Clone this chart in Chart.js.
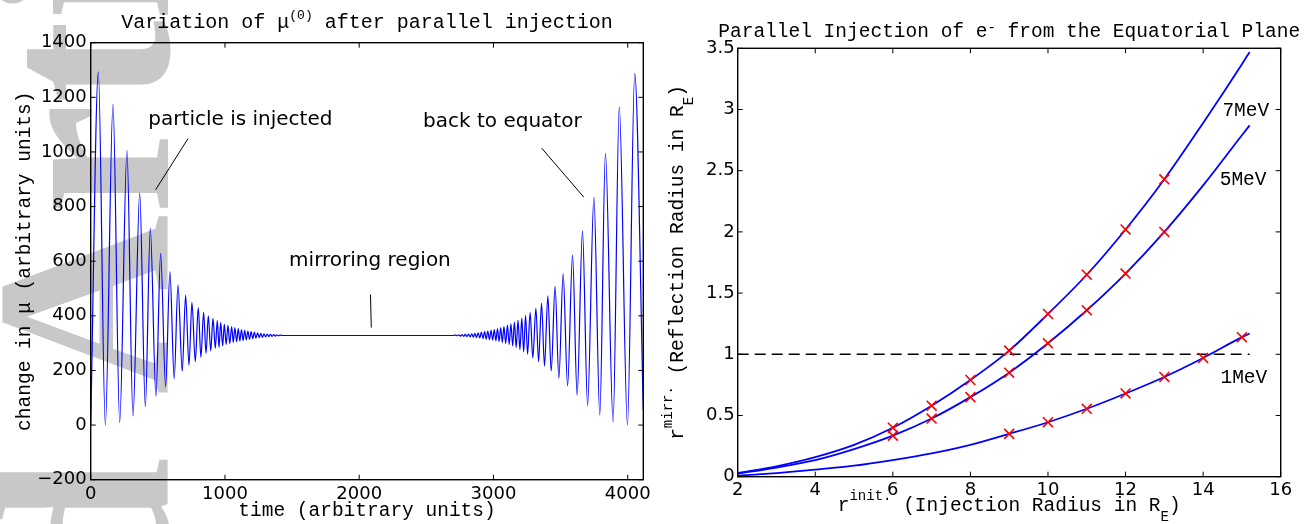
<!DOCTYPE html>
<html>
<head>
<meta charset="utf-8">
<script src="https://cdn.jsdelivr.net/npm/chart.js@4.4.1/dist/chart.umd.min.js"></script>
<style>
  html, body { margin: 0; padding: 0; background: #fff; }
  body { width: 1314px; height: 524px; position: relative; overflow: hidden; }
  canvas, svg { position: absolute; top: 0; }
  #wm { left: 0; }
  #muChart { left: 0; }
  #mirrChart { left: 660px; }
</style>
</head>
<body>
<svg id="wm" width="660" height="524">
  <g font-family="Liberation Serif" font-weight="bold" font-size="250" fill="#c8c8c8" transform="translate(168,395) rotate(-90)">
    <text x="-62" y="0" text-anchor="end">Accepted</text>
    <text x="0" y="0">Article</text>
  </g>
</svg>
<canvas id="muChart" width="660" height="524"></canvas>
<canvas id="mirrChart" width="654" height="524"></canvas>
<script>
// ---- panel 1 : peaks / troughs of mu ----
const muTime = [
  0, 57, 109, 166, 216, 270, 315, 365, 407, 444,
  486, 521, 558, 590, 622, 650, 682, 707, 732, 754,
  779, 801, 821, 841, 859, 876, 894, 911, 928, 943,
  956, 968, 983, 995, 1009, 1022, 1036, 1050, 1062, 1074,
  1087, 1099, 1111, 1123, 1135, 1147, 1159, 1171, 1183, 1195,
  1207, 1219, 1231, 1243, 1255, 1267, 1279, 1291, 1303, 1315,
  1327, 1339, 1351, 1363, 1375, 1387, 1399, 1411, 1440, 2055,
  2690, 2718, 2730, 2742, 2754, 2766, 2778, 2790, 2802, 2814,
  2826, 2838, 2850, 2862, 2874, 2886, 2898, 2910, 2922, 2934,
  2946, 2958, 2970, 2982, 2994, 3006, 3018, 3030, 3042, 3054,
  3066, 3078, 3091, 3104, 3117, 3130, 3143, 3156, 3169, 3183,
  3197, 3211, 3225, 3239, 3254, 3273, 3293, 3316, 3336, 3358,
  3380, 3405, 3430, 3459, 3487, 3519, 3552, 3589, 3623, 3663,
  3701, 3748, 3792, 3834, 3891, 3937, 3998, 4052, 4116
];
const muValue = [
  0, 1293, 0, 1174, 10, 1005, 33, 849, 67, 720,
  106, 629, 140, 562, 170, 513, 197, 476, 219, 449,
  232, 430, 248, 413, 263, 400, 272, 391, 281, 383,
  284, 376, 290, 370, 295, 365, 299, 361, 302, 357,
  305, 353, 308, 350, 310, 347, 312, 344, 314, 342,
  316, 340, 318, 338, 320, 336, 321, 334, 323, 333,
  324, 332, 325, 331, 326, 330, 327, 329.5, 328, 328,
  328, 329.5, 327, 330, 326, 331, 325, 332, 324, 333,
  323, 334, 322, 336, 320, 338, 319, 340, 317, 342,
  315, 344, 313, 347, 311, 350, 309, 353, 306, 357,
  303, 361, 299, 366, 295, 371, 290, 377, 284, 384,
  276, 392, 268, 402, 260, 412, 246, 427, 232, 447,
  216, 473, 198, 508, 171, 555, 143, 622, 109, 711,
  71, 835, 37, 995, 11, 1165, 0, 1288, 55
];
const muXTicks = [0, 1000, 2000, 3000, 4000];
const muXLabels = ['0', '1000', '2000', '3000', '4000'];
const muYTicks = [-200, 0, 200, 400, 600, 800, 1000, 1200, 1400];
const muYLabels = ['\u2212200', '0', '200', '400', '600', '800', '1000', '1200', '1400'];

// ---- panel 2 : mirror radius vs injection radius ----
const curveX = [2, 3, 4, 5, 6, 7, 8, 9, 10, 11, 12, 13, 14, 15, 15.2];
const curve7MeV = [0.03, 0.085, 0.16, 0.26, 0.40, 0.58, 0.79, 1.03, 1.33, 1.65, 2.02, 2.43, 2.89, 3.37, 3.47];
const curve5MeV = [0.025, 0.075, 0.135, 0.225, 0.335, 0.475, 0.65, 0.85, 1.09, 1.36, 1.66, 2.00, 2.38, 2.79, 2.87];
const curve1MeV = [0.008, 0.03, 0.058, 0.09, 0.136, 0.19, 0.26, 0.35, 0.445, 0.555, 0.68, 0.815, 0.97, 1.14, 1.17];
const mark7X = [6, 7, 8, 9, 10, 11, 12, 13];
const mark7Y = [0.40, 0.58, 0.79, 1.03, 1.33, 1.65, 2.02, 2.43];
const mark5X = [6, 7, 8, 9, 10, 11, 12, 13];
const mark5Y = [0.335, 0.475, 0.65, 0.85, 1.09, 1.36, 1.66, 2.00];
const mark1X = [9, 10, 11, 12, 13, 14, 15];
const mark1Y = [0.35, 0.445, 0.555, 0.68, 0.815, 0.97, 1.14];
const refX = [2, 15.2];
const refY = [1, 1];
const rXTicks = [2, 4, 6, 8, 10, 12, 14, 16];
const rXLabels = ['2', '4', '6', '8', '10', '12', '14', '16'];
const rYTicks = [0, 0.5, 1, 1.5, 2, 2.5, 3, 3.5];
const rYLabels = ['0', '0.5', '1', '1.5', '2', '2.5', '3', '3.5'];

const MONO = '"Liberation Mono", monospace';
const SANS = '"DejaVu Sans", sans-serif';

Chart.defaults.font.family = SANS;
Chart.defaults.font.size = 18;
Chart.defaults.color = '#000';

const pts = (xs, ys) => xs.map((x, i) => ({ x: x, y: ys[i] }));

// texte avec exposants / indices, centré sur (x, y), éventuellement tourné
function drawRich(ctx, parts, x, y, angle) {
    ctx.save();
    ctx.translate(x, y);
    ctx.rotate(angle || 0);
    ctx.textAlign = 'left';
    ctx.textBaseline = 'alphabetic';
    ctx.fillStyle = '#000';
    let total = 0;
    parts.forEach(p => {
        ctx.font = p.size + 'px ' + MONO;
        p.w = ctx.measureText(p.text).width;
        total += p.w;
    });
    let cx = -total / 2;
    parts.forEach(p => {
        ctx.font = p.size + 'px ' + MONO;
        ctx.fillText(p.text, cx, p.dy || 0);
        cx += p.w;
    });
    ctx.restore();
}

// cadre + graduations vers l'intérieur, sur les 4 côtés
function drawFrame(chart, xTicks, yTicks) {
    const { ctx, chartArea: a, scales: { x, y } } = chart;
    ctx.save();
    ctx.strokeStyle = '#000';
    ctx.lineWidth = 1;
    ctx.beginPath();
    xTicks.forEach(v => {
        const px = x.getPixelForValue(v);
        ctx.moveTo(px, a.bottom); ctx.lineTo(px, a.bottom - 5);
        ctx.moveTo(px, a.top); ctx.lineTo(px, a.top + 5);
    });
    yTicks.forEach(v => {
        const py = y.getPixelForValue(v);
        ctx.moveTo(a.left, py); ctx.lineTo(a.left + 5, py);
        ctx.moveTo(a.right, py); ctx.lineTo(a.right - 5, py);
    });
    ctx.stroke();
    ctx.lineWidth = 1.4;
    ctx.strokeRect(a.left, a.top, a.right - a.left, a.bottom - a.top);
    ctx.restore();
}

function axisScales(xMin, xMax, xTicks, xLabels, yMin, yMax, yTicks, yLabels, yWidth, xHeight, xPad, yPad) {
    return {
        x: {
            type: 'linear', min: xMin, max: xMax,
            grid: { display: false }, border: { display: false },
            afterBuildTicks: s => { s.ticks = xTicks.map(v => ({ value: v })); },
            afterFit: s => { s.height = xHeight; },
            ticks: { padding: xPad, maxRotation: 0, autoSkip: false,
                     callback: v => xLabels[xTicks.indexOf(v)] }
        },
        y: {
            type: 'linear', min: yMin, max: yMax,
            grid: { display: false }, border: { display: false },
            afterBuildTicks: s => { s.ticks = yTicks.map(v => ({ value: v })); },
            afterFit: s => { s.width = yWidth; },
            ticks: { padding: yPad, autoSkip: false,
                     callback: v => yLabels[yTicks.indexOf(v)] }
        }
    };
}

// --- Panneau 1 ---
const muNotes = [
    { text: 'particle is injected', x: 1115, y: 1097 },
    { text: 'back to equator', x: 3066, y: 1091 },
    { text: 'mirroring region', x: 2080, y: 581 }
];
const muPointers = [
    [725, 1049, 484, 862],
    [3359, 1014, 3672, 835],
    [2084, 478, 2090, 357]
];

const muDecor = {
    id: 'muDecor',
    afterDraw(chart) {
        const { ctx, scales: { x, y } } = chart;
        drawFrame(chart, muXTicks, muYTicks);

        ctx.save();
        ctx.strokeStyle = '#000';
        ctx.lineWidth = 1;
        ctx.beginPath();
        muPointers.forEach(p => {
            ctx.moveTo(x.getPixelForValue(p[0]), y.getPixelForValue(p[1]));
            ctx.lineTo(x.getPixelForValue(p[2]), y.getPixelForValue(p[3]));
        });
        ctx.stroke();
        ctx.font = '20px ' + SANS;
        ctx.fillStyle = '#000';
        ctx.textAlign = 'center';
        ctx.textBaseline = 'alphabetic';
        muNotes.forEach(n => ctx.fillText(n.text, x.getPixelForValue(n.x), y.getPixelForValue(n.y)));
        ctx.restore();

        const cx = (chart.chartArea.left + chart.chartArea.right) / 2;
        const cy = (chart.chartArea.top + chart.chartArea.bottom) / 2;
        drawRich(ctx, [
            { text: 'Variation of \u03bc', size: 20 },
            { text: '(0)', size: 13, dy: -9 },
            { text: ' after parallel injection', size: 20 }
        ], cx, 28.3);
        drawRich(ctx, [{ text: 'time (arbitrary units)', size: 19.5 }], cx, 516);
        drawRich(ctx, [{ text: 'change in \u03bc (arbitrary units)', size: 19.5 }], 30, cy, -Math.PI / 2);
    }
};

new Chart(document.getElementById('muChart'), {
    type: 'line',
    data: {
        datasets: [{
            data: pts(muTime, muValue),
            borderColor: '#0000ff',
            borderWidth: 1.2,
            pointRadius: 0,
            cubicInterpolationMode: 'monotone',
            fill: false
        }]
    },
    options: {
        responsive: false,
        animation: false,
        events: [],
        layout: { padding: { left: 0, top: 42.7, right: 16.7, bottom: 0 } },
        plugins: { legend: { display: false }, tooltip: { enabled: false } },
        scales: axisScales(0, 4116, muXTicks, muXLabels, -200, 1400, muYTicks, muYLabels, 90.7, 44.3, -4.5, -4)
    },
    plugins: [muDecor]
});

// --- Panneau 2 ---
const curveNotes = [
    { text: '7MeV', x: 15.1, y: 2.95 },
    { text: '5MeV', x: 15.03, y: 2.38 },
    { text: '1MeV', x: 15.05, y: 0.765 }
];

const mirrDecor = {
    id: 'mirrDecor',
    afterDraw(chart) {
        const { ctx, scales: { x, y } } = chart;
        drawFrame(chart, rXTicks, rYTicks);

        ctx.save();
        ctx.font = '19.5px ' + MONO;
        ctx.fillStyle = '#000';
        ctx.textAlign = 'center';
        ctx.textBaseline = 'alphabetic';
        curveNotes.forEach(n => ctx.fillText(n.text, x.getPixelForValue(n.x), y.getPixelForValue(n.y)));
        ctx.restore();

        const off = 660;
        const cx = (chart.chartArea.left + chart.chartArea.right) / 2;
        const cy = (chart.chartArea.top + chart.chartArea.bottom) / 2;
        drawRich(ctx, [
            { text: 'Parallel Injection of e', size: 19.5 },
            { text: '-', size: 14, dy: -5 },
            { text: ' from the Equatorial Plane', size: 19.5 }
        ], cx, 36.7);
        drawRich(ctx, [
            { text: 'r', size: 19.5 },
            { text: 'init.', size: 14, dy: -11 },
            { text: ' (Injection Radius in R', size: 19.5 },
            { text: 'E', size: 14, dy: 9.5 },
            { text: ')', size: 19.5 }
        ], cx, 511);
        drawRich(ctx, [
            { text: 'r', size: 19.5 },
            { text: 'mirr.', size: 14, dy: -11 },
            { text: ' (Reflection Radius in R', size: 19.5 },
            { text: 'E', size: 14, dy: 10 },
            { text: ')', size: 19.5 }
        ], 683 - off, cy, -Math.PI / 2);
    }
};

const curveStyle = { borderColor: '#0000ff', borderWidth: 1.8, pointRadius: 0,
                     cubicInterpolationMode: 'monotone', fill: false };
const markStyle = { showLine: false, pointStyle: 'crossRot', pointRadius: 7,
                    pointBorderColor: '#ff0000', pointBorderWidth: 1.6, borderColor: '#ff0000' };

new Chart(document.getElementById('mirrChart'), {
    type: 'line',
    data: {
        datasets: [
            Object.assign({ data: pts(mark7X, mark7Y) }, markStyle),
            Object.assign({ data: pts(mark5X, mark5Y) }, markStyle),
            Object.assign({ data: pts(mark1X, mark1Y) }, markStyle),
            Object.assign({ data: pts(curveX, curve7MeV) }, curveStyle),
            Object.assign({ data: pts(curveX, curve5MeV) }, curveStyle),
            Object.assign({ data: pts(curveX, curve1MeV) }, curveStyle),
            { data: pts(refX, refY), borderColor: '#000', borderWidth: 1.5,
              borderDash: [11, 6], pointRadius: 0, fill: false }
        ]
    },
    options: {
        responsive: false,
        animation: false,
        events: [],
        layout: { padding: { left: 0, top: 48.3, right: 33.3, bottom: 0 } },
        plugins: { legend: { display: false }, tooltip: { enabled: false } },
        scales: axisScales(2, 16, rXTicks, rXLabels, 0, 3.5, rYTicks, rYLabels, 77.7, 47.3, -5.5, -5)
    },
    plugins: [mirrDecor]
});
</script>
</body>
</html>
